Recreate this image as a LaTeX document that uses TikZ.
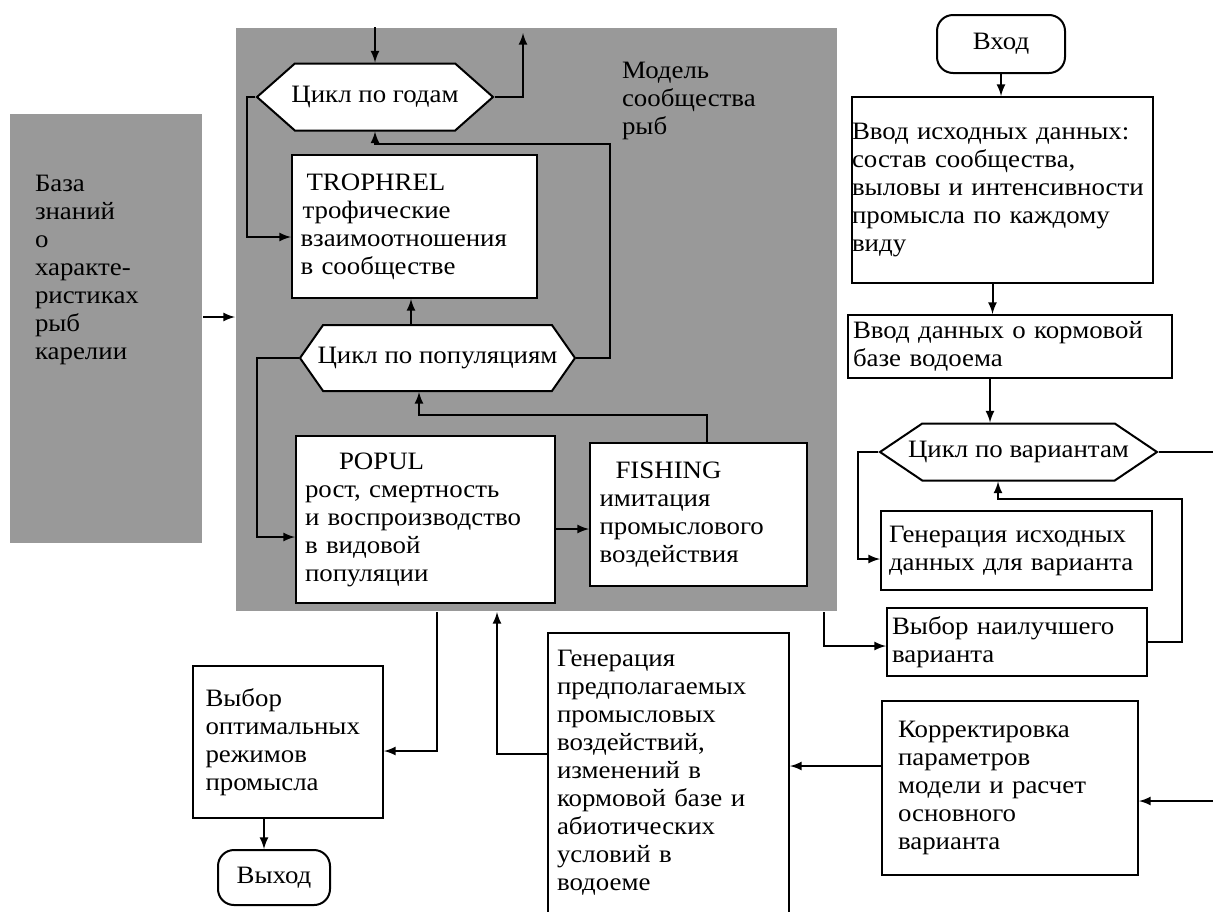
\documentclass[tikz,border=0pt]{standalone}
\usepackage{fontspec}
\setmainfont[FakeStretch=1.075]{Liberation Serif}
\usetikzlibrary{shapes.symbols, arrows}

\begin{document}
\begin{tikzpicture}
    [
        x=0.5pt, y=-0.5pt, line width=1pt,
        font=\fontsize{12.5}{14}\selectfont,
        grey/.style = {fill=black!40, inner sep=0pt},
        box/.style = {draw, shape=rectangle, fill=white, align=left, inner ysep=0pt},
        term/.style = {draw, shape=rectangle, rounded corners=8pt, fill=white},
        loop/.style = {draw, shape=signal, signal to=east and west, fill=white, inner sep=1pt},
    ]
    \useasboundingbox (0,0) rectangle (1213,911);

    % grey blocks
    \node[grey, minimum width=96pt, minimum height=214.5pt] (basa) at (106,328.5) {};
    \node[anchor=north west, align=left, inner sep=0pt] (basatxt) at (34,174) {База\\знаний\\о\\характе-\\ристиках\\рыб\\карелии};
    \node[grey, minimum width=300.5pt, minimum height=291.5pt] (model) at (536.5,319.5) {};
    \node[anchor=north west, align=left, inner sep=0pt] (modeltxt) at (621,61) {Модель\\сообщества\\рыб};

    % inside the model
    \node[loop, minimum width=118pt, minimum height=33.5pt, signal pointer angle=83] (god) at (375,97) {\makebox[0pt]{Цикл по годам}};
    \node[box, minimum width=122.5pt, minimum height=71.5pt, text width=114pt, inner xsep=4pt] (troph) at (414.5,226.5) {\hspace*{3pt}TROPHREL\\\hspace*{1pt}трофические\\взаимоотношения\\в сообществе};
    \node[loop, minimum width=137.5pt, minimum height=33pt, signal pointer angle=110] (popl) at (437.5,358) {\makebox[0pt]{Цикл по популяциям}};
    \node[box, minimum width=129.5pt, minimum height=83.5pt, text width=120.5pt, inner xsep=4.5pt] (popul) at (425.5,519.5) {\hspace*{17pt}POPUL\\рост, смертность\\и воспроизводство\\в видовой\\популяции};
    \node[box, minimum width=108.5pt, minimum height=71.5pt, text width=99pt, inner xsep=4.75pt] (fish) at (698.5,514.5) {\hspace*{8pt}FISHING\\имитация\\промыслового\\воздействия};

    % right column
    \node[term, minimum width=64pt, minimum height=29pt] (vhod) at (1001,44) {Вход};
    \node[box, minimum width=150.5pt, minimum height=93pt, text width=150.5pt, inner xsep=0pt] (vvod1) at (1002.5,190) {Ввод исходных данных:\\состав сообщества,\\выловы и интенсивности\\промысла по каждому\\виду};
    \node[box, minimum width=162pt, minimum height=31.5pt, text width=157pt, inner xsep=2.5pt] (vvod2) at (1010,346.5) {Ввод данных о кормовой\\базе водоема};
    \node[loop, minimum width=138.5pt, minimum height=28.5pt, signal pointer angle=68] (var) at (1018.5,452) {\makebox[0pt]{Цикл по вариантам}};
    \node[box, minimum width=135.5pt, minimum height=39.5pt, text width=127.5pt, inner xsep=4pt] (gen1) at (1016.5,550.5) {Генерация исходных\\данных для варианта};
    \node[box, minimum width=130pt, minimum height=34pt, text width=125pt, inner xsep=2.5pt] (best) at (1017,642) {Выбор наилучшего\\варианта};
    \node[box, minimum width=128pt, minimum height=87pt, text width=112pt, inner xsep=8pt] (korr) at (1010,788) {Корректировка\\параметров\\модели и расчет\\основного\\варианта};

    % bottom
    \node[box, minimum width=120.5pt, minimum height=140pt, text width=111.5pt, inner xsep=4.5pt] (gen2) at (668.5,773) {Генерация\\предполагаемых\\промысловых\\воздействий,\\изменений в\\кормовой базе и\\абиотических\\условий в\\водоеме};
    \node[box, minimum width=95pt, minimum height=76pt, text width=82.5pt, inner xsep=6.25pt] (opt) at (288,742) {Выбор\\оптимальных\\режимов\\промысла};
    \node[term, minimum width=56pt, minimum height=27.5pt] (vyhod) at (274,877.5) {Выход};

    % free ends
    \coordinate (godout) at (523,33);
    \coordinate (rloop) at (610,144);
    \coordinate (bestup) at (1182,499);
    \coordinate (varout) at (1213,452);
    \coordinate (korrin) at (1213,801);

    % model connectors
    \draw [-latex] ([yshift=5.75pt]basa.east) -- ([yshift=5.75pt]basa.east -| model.west);
    \draw [-latex] (god.north |- model.north) -- (god.north);
    \draw [-latex] (god.east) -| (godout);
    \draw [-latex] (god.west) -- ++(-8,0) |- ([yshift=-5.25pt]troph.west);
    \draw [-latex] ([xshift=-13.25pt]popl.north) -- ([xshift=-13.25pt]popl.north |- troph.south);
    \draw [-latex] (popl.east) -| (rloop) -| (god.south);
    \draw [-latex] (popl.west) -- ++(-42,0) |- ([yshift=-8.75pt]popul.west);
    \draw [-latex] ([yshift=-4.75pt]popul.east) -- ([yshift=-4.75pt]popul.east -| fish.west);
    \draw [-latex] ([xshift=4.25pt]fish.north) -- ++(0,-27) -| ([xshift=-9.25pt]popl.south);

    % right column connectors
    \draw [-latex] (vhod.south) -- (vhod.south |- vvod1.north);
    \draw [-latex] ([xshift=-5pt]vvod1.south) -- ([xshift=-5pt]vvod1.south |- vvod2.north);
    \draw [-latex] ([xshift=-10pt]vvod2.south) -- ([xshift=-10pt]vvod2.south |- var.north);
    \draw [-latex] (var.west) -- ++(-20,0) |- ([yshift=-4.25pt]gen1.west);
    \draw [-latex] (best.east) -| (bestup) -| ([xshift=-10.25pt]var.south);
    \draw (var.east) -- (varout);

    % bottom connectors
    \draw [-latex] ([xshift=-49.75pt]model.south) |- ([yshift=-4.5pt]opt.east);
    \draw [-latex] ([yshift=9.5pt]gen2.west) -| ([xshift=-19.75pt]model.south);
    \draw [-latex] ([xshift=-12pt]opt.south) -- ([xshift=-12pt]opt.south |- vyhod.north);
    \draw [-latex] ([xshift=143.75pt]model.south) |- ([yshift=-2pt]best.west);
    \draw [-latex] ([yshift=11pt]korr.west) -- ([yshift=11pt]korr.west -| gen2.east);
    \draw [-latex] (korrin) -- (korrin -| korr.east);

\end{tikzpicture}
\end{document}
